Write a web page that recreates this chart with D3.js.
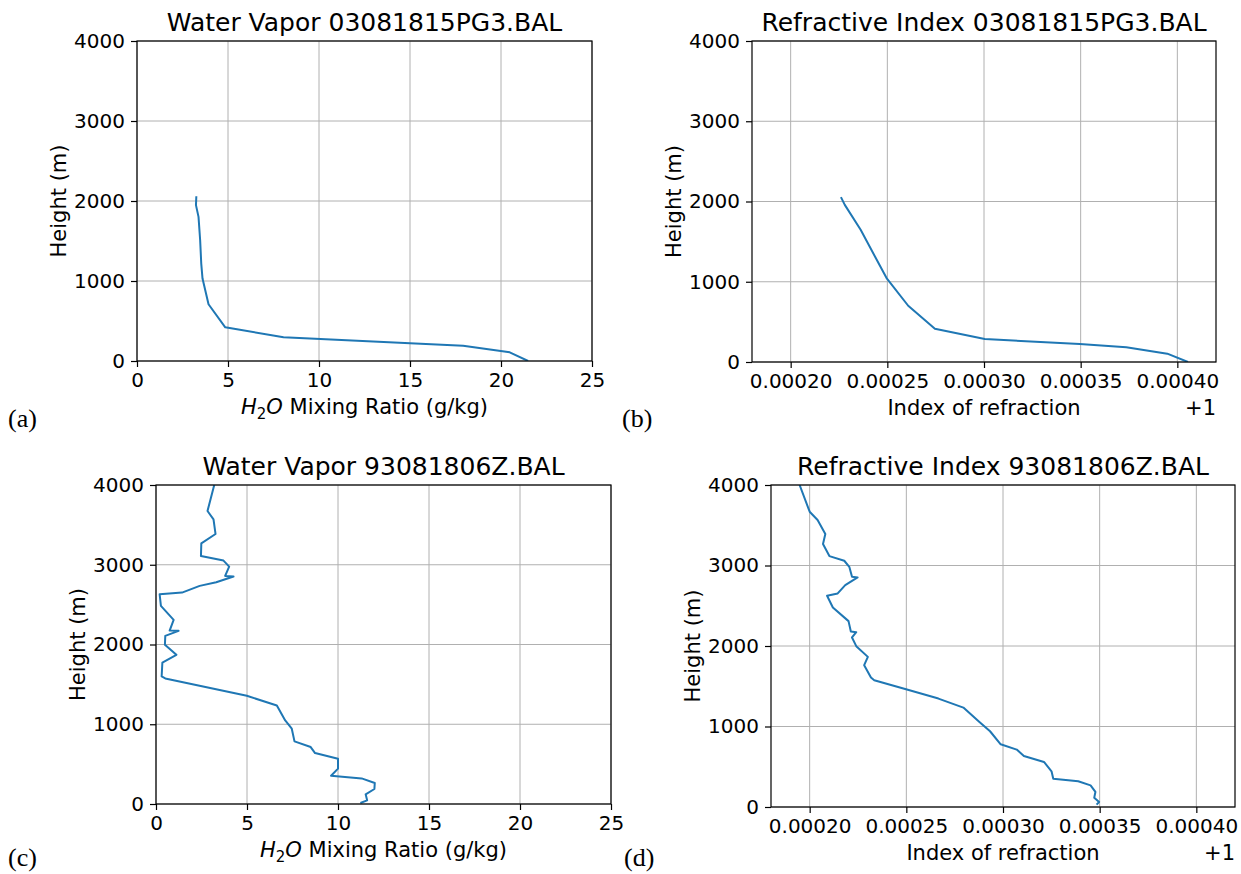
<!DOCTYPE html>
<html>
<head>
<meta charset="utf-8">
<script src="https://cdn.jsdelivr.net/npm/d3@7"></script>
<style>
  body { margin: 0; background: #fff; }
  svg text { font-family: "DejaVu Sans", sans-serif; fill: #000; }
</style>
</head>
<body>
<div id="chart-container"></div>
<script>
// sounding 03081815PG3.BAL
const mixA = [3.26, 3.24, 3.38, 3.47, 3.53, 3.60, 3.93, 4.85, 8.05, 15.0, 17.92, 20.48, 21.49];
const hA   = [2060, 1948, 1802, 1510, 1218, 1030, 709, 421, 296, 221, 192, 108, 0];
const refB = [0.000226, 0.000228, 0.0002362, 0.0002436, 0.0002496, 0.0002608, 0.0002746, 0.0003004, 0.0003495, 0.0003736, 0.0003948, 0.0004055];
const hB   = [2054, 1958, 1647, 1315, 1046, 701, 415, 286, 224, 183, 104, 0];

// sounding 93081806Z.BAL
const mixC = [3.20, 2.83, 3.16, 3.27, 2.49, 2.47, 3.71, 4.02, 3.80, 4.26, 3.31, 2.40, 1.43, 0.20, 0.27, 0.97, 0.75, 1.24, 0.51, 0.49, 1.12, 0.35, 0.31, 0.51, 4.99, 6.64, 7.10, 7.46, 7.61, 8.50, 8.74, 10.0, 10.0, 9.62, 11.30, 12.02, 12.0, 11.52, 11.60, 11.23];
const hC   = [4000, 3674, 3570, 3386, 3269, 3110, 3052, 2977, 2860, 2852, 2781, 2735, 2651, 2630, 2484, 2309, 2175, 2171, 2108, 1996, 1870, 1774, 1599, 1574, 1357, 1236, 1048, 944, 785, 714, 639, 568, 443, 355, 321, 263, 188, 121, 46, 13];
const refD = [0.0001948, 0.0002, 0.0002041, 0.0002081, 0.0002069, 0.0002102, 0.0002179, 0.0002205, 0.0002219, 0.0002248, 0.0002184, 0.0002145, 0.0002090, 0.0002120, 0.0002201, 0.0002213, 0.0002241, 0.0002219, 0.0002241, 0.0002301, 0.0002282, 0.0002317, 0.0002334, 0.0002503, 0.0002666, 0.0002795, 0.0002878, 0.0002933, 0.0002988, 0.0003071, 0.0003108, 0.0003212, 0.0003251, 0.0003260, 0.0003389, 0.0003453, 0.0003478, 0.0003472, 0.0003497, 0.0003484];
const hD   = [4000, 3668, 3565, 3391, 3266, 3117, 3059, 2984, 2860, 2852, 2756, 2653, 2624, 2479, 2309, 2180, 2172, 2106, 1998, 1865, 1762, 1608, 1575, 1459, 1347, 1235, 1057, 941, 779, 713, 634, 560, 444, 352, 319, 269, 187, 116, 62, 29];

const heightTicks = [0, 1000, 2000, 3000, 4000];
const mixTicks = [0, 5, 10, 15, 20, 25];
const refTicks = [0.00020, 0.00025, 0.00030, 0.00035, 0.00040];

const svg = d3.select("#chart-container")
    .append("svg")
    .attr("width", 1241)
    .attr("height", 874);

let clipId = 0;

function drawPanel(p) {
    const x = d3.scaleLinear().domain(p.xDomain).range([p.left, p.right]);
    const y = d3.scaleLinear().domain([0, 4000]).range([p.bottom, p.top]);
    const g = svg.append("g");

    // grid
    g.selectAll(".vgrid").data(p.xTicks).enter().append("line")
        .attr("x1", d => x(d)).attr("x2", d => x(d))
        .attr("y1", p.top).attr("y2", p.bottom)
        .attr("stroke", "#b0b0b0").attr("stroke-width", 1);
    g.selectAll(".hgrid").data(heightTicks).enter().append("line")
        .attr("x1", p.left).attr("x2", p.right)
        .attr("y1", d => y(d)).attr("y2", d => y(d))
        .attr("stroke", "#b0b0b0").attr("stroke-width", 1);

    // data line
    const id = "clip" + (clipId++);
    svg.append("defs").append("clipPath").attr("id", id)
        .append("rect").attr("x", p.left).attr("y", p.top)
        .attr("width", p.right - p.left).attr("height", p.bottom - p.top);
    const pts = p.xs.map((v, i) => [v, p.hs[i]]);
    g.append("path")
        .datum(pts)
        .attr("clip-path", `url(#${id})`)
        .attr("d", d3.line().x(d => x(d[0])).y(d => y(d[1])))
        .attr("fill", "none")
        .attr("stroke", "#1f77b4")
        .attr("stroke-width", 2)
        .attr("stroke-linejoin", "round");

    // frame
    g.append("rect")
        .attr("x", p.left).attr("y", p.top)
        .attr("width", p.right - p.left).attr("height", p.bottom - p.top)
        .attr("fill", "none").attr("stroke", "#000").attr("stroke-width", 1.2);

    // axes
    const xa = g.append("g")
        .attr("transform", `translate(0,${p.bottom})`)
        .call(d3.axisBottom(x).tickValues(p.xTicks).tickFormat(p.xFormat).tickSize(6).tickPadding(6));
    const ya = g.append("g")
        .attr("transform", `translate(${p.left},0)`)
        .call(d3.axisLeft(y).tickValues(heightTicks).tickFormat(d3.format("d")).tickSize(6).tickPadding(6));
    [xa, ya].forEach(a => {
        a.select(".domain").remove();
        a.selectAll("line").attr("stroke", "#000").attr("stroke-width", 1.2);
        a.selectAll("text").attr("font-size", 20).attr("font-family", "DejaVu Sans");
    });

    // title
    g.append("text")
        .attr("x", (p.left + p.right) / 2).attr("y", p.top - 10)
        .attr("text-anchor", "middle").attr("font-size", 25)
        .text(p.title);

    // y label
    g.append("text")
        .attr("transform", `translate(${p.left - 71},${(p.top + p.bottom) / 2}) rotate(-90)`)
        .attr("text-anchor", "middle").attr("font-size", 21)
        .text("Height (m)");

    // x label
    const xl = g.append("text")
        .attr("x", (p.left + p.right) / 2).attr("y", p.bottom + 53)
        .attr("text-anchor", "middle").attr("font-size", 21);
    if (p.mixing) {
        xl.append("tspan").attr("font-style", "italic").text("H");
        xl.append("tspan").attr("font-size", 15).attr("dy", 5).text("2");
        xl.append("tspan").attr("font-style", "italic").attr("dy", -5).text("O");
        xl.append("tspan").text(" Mixing Ratio (g/kg)");
    } else {
        xl.text("Index of refraction");
        g.append("text")
            .attr("x", p.right).attr("y", p.bottom + 53)
            .attr("text-anchor", "end").attr("font-size", 21)
            .text("+1");
    }

    // panel letter
    svg.append("text")
        .attr("x", p.letterX).attr("y", p.letterY)
        .style("font-family", "'Liberation Serif', 'DejaVu Serif', serif")
        .attr("font-size", 26)
        .text(p.letter);
}

const fmtMix = d3.format("d");
const fmtRef = d3.format(".5f");

drawPanel({ left: 137, right: 592, top: 41, bottom: 361, xDomain: [0, 25], xTicks: mixTicks, xFormat: fmtMix,
    xs: mixA, hs: hA, title: "Water Vapor 03081815PG3.BAL", mixing: true, letter: "(a)", letterX: 8, letterY: 427 });
drawPanel({ left: 752, right: 1216, top: 41, bottom: 362, xDomain: [0.00018, 0.00042], xTicks: refTicks, xFormat: fmtRef,
    xs: refB, hs: hB, title: "Refractive Index 03081815PG3.BAL", mixing: false, letter: "(b)", letterX: 622, letterY: 427 });
drawPanel({ left: 156, right: 611, top: 485, bottom: 804, xDomain: [0, 25], xTicks: mixTicks, xFormat: fmtMix,
    xs: mixC, hs: hC, title: "Water Vapor 93081806Z.BAL", mixing: true, letter: "(c)", letterX: 8, letterY: 866 });
drawPanel({ left: 771, right: 1235, top: 485, bottom: 807, xDomain: [0.00018, 0.00042], xTicks: refTicks, xFormat: fmtRef,
    xs: refD, hs: hD, title: "Refractive Index 93081806Z.BAL", mixing: false, letter: "(d)", letterX: 624, letterY: 866 });
</script>
</body>
</html>
